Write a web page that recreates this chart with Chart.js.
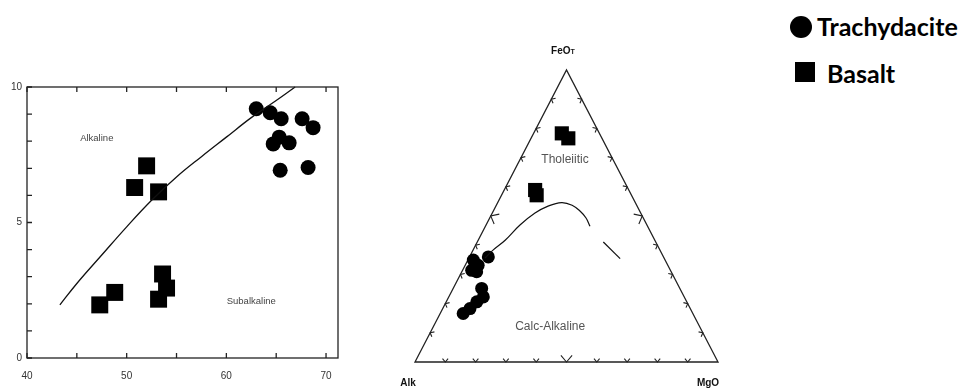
<!DOCTYPE html>
<html>
<head>
<meta charset="utf-8">
<script src="https://cdn.jsdelivr.net/npm/chart.js@4"></script>
<style>
  body { margin: 0; background: #fff; }
  #wrap { position: relative; width: 961px; height: 388px; overflow: hidden; }
  .box { position: absolute; }
  #leftBox { left: 0; top: 0; width: 350px; height: 388px; }
  #rightBox { left: 380px; top: 0; width: 380px; height: 388px; }
  .leg { position: absolute; font-family: "Lato", "Open Sans", sans-serif; font-weight: bold; font-size: 25px; color: #000; line-height: 1; }
  .dot { position: absolute; background: #000; }
</style>
</head>
<body>
<div id="wrap">
  <div class="box" id="leftBox"><canvas id="tas"></canvas></div>
  <div class="box" id="rightBox"><canvas id="afm"></canvas></div>
  <div class="dot" style="left:790px;top:16px;width:22px;height:22px;border-radius:50%;"></div>
  <div class="leg" style="left:817px;top:14px;">Trachydacite</div>
  <div class="dot" style="left:795px;top:62px;width:20px;height:20px;"></div>
  <div class="leg" style="left:827px;top:61px;">Basalt</div>
</div>
<script>
// left diagram: SiO2 vs total alkali
const trachySiO2 = [63.0, 64.4, 65.5, 67.6, 68.7, 65.3, 64.7, 66.3, 65.4, 68.2];
const trachyAlk = [9.2, 9.05, 8.83, 8.83, 8.5, 8.15, 7.9, 7.94, 6.93, 7.03];
const basaltSiO2 = [52.0, 50.8, 53.2, 53.6, 54.0, 53.2, 48.8, 47.3];
const basaltAlk = [7.09, 6.29, 6.13, 3.1, 2.58, 2.17, 2.42, 1.96];
const dividerSiO2 = [43.3, 45, 47.5, 50, 52.5, 55, 57.5, 60, 62.5, 65, 66.9];
const dividerAlk = [1.96, 2.75, 3.8, 4.84, 5.82, 6.68, 7.43, 8.15, 8.87, 9.5, 10.0];
const xTicks = [40, 45, 50, 55, 60, 65, 70];
const xLabels = [40, 50, 60, 70];
const yTicks = [0, 1, 2, 3, 4, 5, 6, 7, 8, 9, 10];
const yLabels = [0, 5, 10];

// right diagram: AFM ternary (percent)
const afmBasaltFeO = [78.3, 76.6, 58.9, 57.1];
const afmBasaltAlk = [12.4, 11.1, 30.9, 31.3];
const afmBasaltMgO = [9.3, 12.3, 10.2, 11.6];
const afmTrachyFeO = [34.9, 33.1, 36.0, 31.4, 30.9, 25.2, 22.3, 20.6, 18.3, 16.6];
const afmTrachyAlk = [63.3, 62.6, 57.8, 65.6, 64.2, 65.4, 66.3, 69.3, 72.7, 75.8];
const afmTrachyMgO = [1.8, 4.3, 6.2, 3.0, 4.9, 9.4, 11.4, 10.1, 9.0, 7.6];
const boundaryFeO = [35.6, 38.3, 41.7, 46.9, 51.0, 53.4, 54.6, 53.7, 51.7, 49.3, 46.5];
const boundaryMgO = [5.3, 6.6, 8.9, 11.2, 14.1, 17.2, 21.1, 25.0, 28.6, 31.8, 34.5];
const boundaryDashFeO = [41.1, 35.4];
const boundaryDashMgO = [41.6, 50.0];
const edgeTicks = [10, 20, 30, 40, 50, 60, 70, 80, 90];

Chart.defaults.font.family = '"Liberation Sans", Arial, sans-serif';
Chart.defaults.color = "#333";

function pairs(xs, ys) {
  return xs.map((x, i) => ({ x: x, y: ys[i] }));
}

// ternary -> cartesian (Alk left, MgO right, FeO top)
function tern(feo, mgo) {
  return { x: (mgo + feo / 2) / 100, y: feo / 100 };
}

const leftFrame = {
  id: "leftFrame",
  afterDatasetsDraw(chart) {
    const { ctx, chartArea: a, scales } = chart;
    ctx.save();
    ctx.strokeStyle = "#222";
    ctx.lineWidth = 1.3;
    ctx.strokeRect(a.left, a.top, a.right - a.left, a.bottom - a.top);
    ctx.beginPath();
    xTicks.forEach((v) => {
      const px = scales.x.getPixelForValue(v);
      ctx.moveTo(px, a.bottom);
      ctx.lineTo(px, a.bottom - 5);
      ctx.moveTo(px, a.top);
      ctx.lineTo(px, a.top + 5);
    });
    yTicks.forEach((v) => {
      const py = scales.y.getPixelForValue(v);
      ctx.moveTo(a.left, py);
      ctx.lineTo(a.left + 5, py);
    });
    ctx.stroke();
    ctx.fillStyle = "#444";
    ctx.font = '9.5px "Liberation Sans", Arial';
    ctx.textAlign = "center";
    ctx.textBaseline = "middle";
    ctx.fillText("Alkaline", scales.x.getPixelForValue(47), scales.y.getPixelForValue(8.1));
    ctx.fillText("Subalkaline", scales.x.getPixelForValue(62.5), scales.y.getPixelForValue(2.1));
    ctx.restore();
  },
};

new Chart(document.getElementById("tas"), {
  type: "scatter",
  data: {
    datasets: [
      {
        label: "divider",
        data: pairs(dividerSiO2, dividerAlk),
        showLine: true,
        borderColor: "#111",
        borderWidth: 1.3,
        pointRadius: 0,
        tension: 0.4,
      },
      {
        label: "Trachydacite",
        data: pairs(trachySiO2, trachyAlk),
        pointStyle: "circle",
        pointRadius: 7.5,
        backgroundColor: "#000",
        borderColor: "#000",
        borderWidth: 0,
      },
      {
        label: "Basalt",
        data: pairs(basaltSiO2, basaltAlk),
        pointStyle: "rect",
        pointRadius: 12,
        backgroundColor: "#000",
        borderColor: "#000",
        borderWidth: 0,
      },
    ],
  },
  options: {
    responsive: true,
    maintainAspectRatio: false,
    animation: false,
    clip: false,
    layout: { padding: { top: 87, right: 11, left: 0, bottom: 0 } },
    plugins: { legend: { display: false }, tooltip: { enabled: false } },
    scales: {
      x: {
        type: "linear",
        min: 40,
        max: 71.2,
        grid: { display: false, drawTicks: false },
        border: { display: false },
        afterBuildTicks: (s) => { s.ticks = xLabels.map((v) => ({ value: v })); },
        afterFit: (s) => { s.height = 30; },
        ticks: { padding: 12, font: { size: 10 }, maxRotation: 0 },
      },
      y: {
        type: "linear",
        min: 0,
        max: 10,
        grid: { display: false, drawTicks: false },
        border: { display: false },
        afterBuildTicks: (s) => { s.ticks = yLabels.map((v) => ({ value: v })); },
        afterFit: (s) => { s.width = 27; },
        ticks: { padding: 5, font: { size: 10 } },
      },
    },
  },
  plugins: [leftFrame],
});

const afmFrame = {
  id: "afmFrame",
  beforeDatasetsDraw(chart) {
    const { ctx, scales } = chart;
    const P = (p) => ({ x: scales.x.getPixelForValue(p.x), y: scales.y.getPixelForValue(p.y) });
    const A = P(tern(0, 0));
    const M = P(tern(0, 100));
    const F = P(tern(100, 0));
    const cx = (A.x + M.x + F.x) / 3;
    const cy = (A.y + M.y + F.y) / 3;
    ctx.save();
    ctx.strokeStyle = "#222";
    ctx.lineWidth = 1.3;
    ctx.beginPath();
    ctx.moveTo(A.x, A.y);
    ctx.lineTo(M.x, M.y);
    ctx.lineTo(F.x, F.y);
    ctx.closePath();
    ctx.stroke();
    // chevron ticks along each edge
    ctx.lineWidth = 1.1;
    const edges = [[A, M], [A, F], [M, F]];
    edges.forEach(([p0, p1]) => {
      const ex = p1.x - p0.x, ey = p1.y - p0.y;
      const len = Math.hypot(ex, ey);
      const ux = ex / len, uy = ey / len;
      let nx = -uy, ny = ux;
      const mx = (p0.x + p1.x) / 2, my = (p0.y + p1.y) / 2;
      if ((cx - mx) * nx + (cy - my) * ny < 0) { nx = -nx; ny = -ny; }
      edgeTicks.forEach((t) => {
        const f = t / 100;
        const px = p0.x + ex * f, py = p0.y + ey * f;
        const s = t === 50 ? 8 : 4;
        ctx.beginPath();
        ctx.moveTo(px + (nx * 1.2 - ux) * s * 0.7, py + (ny * 1.2 - uy) * s * 0.7);
        ctx.lineTo(px, py);
        ctx.lineTo(px + (nx * 1.2 + ux) * s * 0.7, py + (ny * 1.2 + uy) * s * 0.7);
        ctx.stroke();
      });
    });
    // labels
    ctx.fillStyle = "#111";
    ctx.font = 'bold 10px "Liberation Sans", Arial';
    ctx.textBaseline = "alphabetic";
    ctx.textAlign = "right";
    ctx.fillText("FeO", F.x + 4, F.y - 16);
    ctx.font = 'bold 7px "Liberation Sans", Arial';
    ctx.textAlign = "left";
    ctx.fillText("T", F.x + 4, F.y - 16);
    ctx.font = 'bold 10px "Liberation Sans", Arial';
    ctx.textAlign = "center";
    ctx.fillText("Alk", A.x - 7, A.y + 24);
    ctx.fillText("MgO", M.x - 10, M.y + 24);
    ctx.fillStyle = "#555";
    ctx.font = '12px "Liberation Sans", Arial';
    ctx.textBaseline = "middle";
    ctx.fillText("Tholeiitic", scales.x.getPixelForValue(0.495), scales.y.getPixelForValue(0.692));
    ctx.fillText("Calc-Alkaline", scales.x.getPixelForValue(0.446), scales.y.getPixelForValue(0.122));
    ctx.restore();
  },
};

function ternPoints(feo, mgo) {
  return feo.map((f, i) => tern(f, mgo[i]));
}

new Chart(document.getElementById("afm"), {
  type: "scatter",
  data: {
    datasets: [
      {
        label: "boundary",
        data: ternPoints(boundaryFeO, boundaryMgO),
        showLine: true,
        borderColor: "#111",
        borderWidth: 1.2,
        pointRadius: 0,
        tension: 0.4,
      },
      {
        label: "boundary dash",
        data: ternPoints(boundaryDashFeO, boundaryDashMgO),
        showLine: true,
        borderColor: "#111",
        borderWidth: 1.2,
        pointRadius: 0,
      },
      {
        label: "Trachydacite",
        data: ternPoints(afmTrachyFeO, afmTrachyMgO),
        pointStyle: "circle",
        pointRadius: 6.5,
        backgroundColor: "#000",
        borderWidth: 0,
      },
      {
        label: "Basalt",
        data: ternPoints(afmBasaltFeO, afmBasaltMgO),
        pointStyle: "rect",
        pointRadius: 10,
        backgroundColor: "#000",
        borderWidth: 0,
      },
    ],
  },
  options: {
    responsive: true,
    maintainAspectRatio: false,
    animation: false,
    clip: false,
    layout: { padding: { top: 70, right: 42, left: 35, bottom: 26 } },
    plugins: { legend: { display: false }, tooltip: { enabled: false } },
    scales: {
      x: { type: "linear", min: 0, max: 1, display: false },
      y: { type: "linear", min: 0, max: 1, display: false },
    },
  },
  plugins: [afmFrame],
});
</script>
</body>
</html>
